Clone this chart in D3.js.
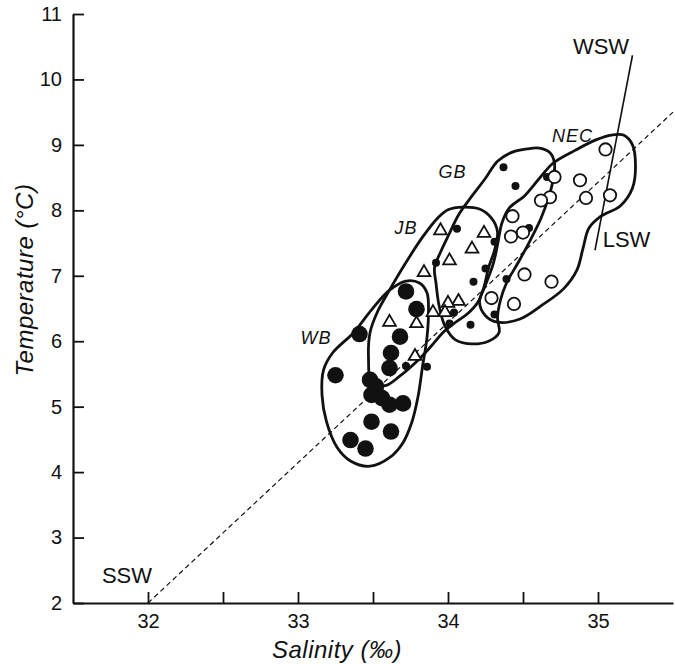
<!DOCTYPE html>
<html>
<head>
<meta charset="utf-8">
<script src="https://cdn.jsdelivr.net/npm/d3@7"></script>
<style>
  html, body { margin: 0; padding: 0; background: #fff; }
  svg { display: block; }
  text { font-family: "Liberation Sans", Arial, sans-serif; fill: #111; }
</style>
</head>
<body>
<svg id="chart" width="675" height="664"></svg>
<script>
// ---------------- data (salinity ‰, temperature °C) ----------------
const salinityTicks = [32, 32.5, 33, 33.5, 34, 34.5, 35];
const salinityLabels = [32, 33, 34, 35];
const tempTicks = [2, 3, 4, 5, 6, 7, 8, 9, 10, 11];

// WB: large filled circles
const wbPoints = [
  [33.72, 6.76], [33.79, 6.49], [33.41, 6.11], [33.68, 6.07], [33.62, 5.82],
  [33.25, 5.48], [33.48, 5.41], [33.52, 5.31], [33.49, 5.18], [33.56, 5.13],
  [33.61, 5.03], [33.70, 5.05], [33.49, 4.77], [33.62, 4.62], [33.35, 4.49],
  [33.45, 4.36], [33.61, 5.59]
];
// JB: open triangles
const jbPoints = [
  [33.61, 6.29], [33.79, 6.27], [33.90, 6.44], [33.78, 5.77], [33.95, 7.69],
  [34.24, 7.65], [34.16, 7.41], [34.01, 7.23], [33.84, 7.05], [34.07, 6.61],
  [34.00, 6.58], [33.98, 6.44]
];
// GB: small filled circles
const gbPoints = [
  [34.37, 8.66], [34.45, 8.37], [34.66, 8.51], [34.54, 7.73], [34.31, 7.52],
  [34.06, 7.72], [33.92, 7.20], [34.25, 7.11], [34.17, 6.91], [34.39, 6.95],
  [34.04, 6.44], [34.01, 6.27], [34.15, 6.25], [34.31, 6.41], [33.86, 5.61],
  [33.72, 5.62]
];
// NEC: open circles
const necPoints = [
  [35.05, 8.93], [34.71, 8.51], [34.88, 8.46], [34.68, 8.20], [34.62, 8.15],
  [34.92, 8.19], [35.08, 8.23], [34.43, 7.91], [34.50, 7.66], [34.42, 7.60],
  [34.51, 7.02], [34.69, 6.91], [34.44, 6.57], [34.29, 6.66]
];

// enclosing contours
const wbContour = [
  [33.61, 6.78], [33.72, 6.92], [33.81, 6.89], [33.86, 6.74], [33.87, 6.48],
  [33.86, 6.06], [33.83, 5.61], [33.80, 5.15], [33.76, 4.77], [33.70, 4.45],
  [33.61, 4.22], [33.48, 4.09], [33.35, 4.17], [33.26, 4.38], [33.19, 4.77],
  [33.16, 5.18], [33.17, 5.56], [33.23, 5.82], [33.37, 6.13], [33.49, 6.48]
];
const jbContour = [
  [33.49, 5.38], [33.47, 5.74], [33.48, 6.13], [33.53, 6.45], [33.61, 6.78],
  [33.70, 7.13], [33.83, 7.59], [33.93, 7.88], [34.00, 8.01], [34.10, 8.05],
  [34.21, 8.02], [34.29, 7.88], [34.33, 7.67], [34.31, 7.39], [34.27, 7.12],
  [34.24, 6.83], [34.20, 6.60], [34.13, 6.42], [34.05, 6.29], [33.97, 6.14],
  [33.89, 5.93], [33.80, 5.71], [33.68, 5.47], [33.58, 5.32]
];
const gbContour = [
  [34.43, 8.89], [34.53, 8.94], [34.61, 8.95], [34.68, 8.88], [34.71, 8.72],
  [34.70, 8.46], [34.67, 8.19], [34.62, 7.88], [34.55, 7.55], [34.47, 7.21],
  [34.39, 6.89], [34.35, 6.63], [34.33, 6.36], [34.34, 6.13], [34.27, 6.00],
  [34.15, 5.96], [34.05, 6.02], [33.98, 6.23], [33.94, 6.55], [33.92, 6.89],
  [33.91, 7.12], [33.95, 7.36], [34.01, 7.65], [34.07, 7.93], [34.15, 8.19],
  [34.25, 8.49], [34.33, 8.75]
];
const necContour = [
  [34.70, 8.72], [34.85, 8.92], [34.99, 9.08], [35.09, 9.15], [35.17, 9.15],
  [35.23, 9.00], [35.25, 8.69], [35.23, 8.34], [35.15, 8.07], [35.02, 7.91],
  [34.94, 7.73], [34.90, 7.42], [34.86, 7.09], [34.77, 6.80], [34.62, 6.54],
  [34.48, 6.34], [34.33, 6.29], [34.25, 6.39], [34.21, 6.60], [34.25, 6.86],
  [34.30, 7.17], [34.33, 7.47], [34.36, 7.81], [34.41, 8.04], [34.51, 8.22],
  [34.61, 8.49]
];

// mixing line from SSW, and WSW/LSW separator
const mixingLine = [[32.0, 2.0], [35.5, 9.5]];
const wswLine = [[35.23, 10.37], [34.98, 7.39]];

// annotations: [text, salinity, temperature]
const waterMassLabels = [
  ["WB", 33.12, 6.05], ["JB", 33.72, 7.73], ["GB", 34.03, 8.59], ["NEC", 34.83, 9.14]
];
const endMemberLabels = [
  ["SSW", 31.86, 2.42], ["WSW", 35.02, 10.50], ["LSW", 35.19, 7.56]
];

// ---------------- drawing ----------------
const svg = d3.select("#chart");
const x = d3.scaleLinear().domain([31.5, 35.5]).range([73, 673]);
const y = d3.scaleLinear().domain([2, 11]).range([603, 14]);

// contours
const closed = d3.line().x(d => x(d[0])).y(d => y(d[1])).curve(d3.curveCatmullRomClosed.alpha(0.5));
[wbContour, jbContour, gbContour, necContour].forEach(c => {
  svg.append("path").attr("d", closed(c))
    .attr("fill", "none").attr("stroke", "#111").attr("stroke-width", 2.8)
    .attr("stroke-linejoin", "round");
});

// dashed mixing line
const straight = d3.line().x(d => x(d[0])).y(d => y(d[1]));
svg.append("path").attr("d", straight(mixingLine))
  .attr("fill", "none").attr("stroke", "#111").attr("stroke-width", 1.2)
  .attr("stroke-dasharray", "5,3.5");
svg.append("path").attr("d", straight(wswLine))
  .attr("fill", "none").attr("stroke", "#111").attr("stroke-width", 1.6);

// axes
const xAxis = d3.axisBottom(x).tickValues(salinityTicks)
  .tickFormat(d => salinityLabels.includes(d) ? d : "")
  .tickSize(-11).tickSizeOuter(0).tickPadding(11);
const gx = svg.append("g").attr("transform", `translate(0,${y(2)})`).call(xAxis);
const yAxis = d3.axisLeft(y).tickValues(tempTicks)
  .tickSize(-11).tickSizeOuter(0).tickPadding(11);
const gy = svg.append("g").attr("transform", `translate(${x(31.5)},0)`).call(yAxis);
[gx, gy].forEach(g => {
  g.select(".domain").attr("stroke", "#111").attr("stroke-width", 2.2);
  g.selectAll(".tick line").attr("stroke", "#111").attr("stroke-width", 1.8);
  g.selectAll(".tick text").style("font-size", "20px").style("font-family", "'Liberation Sans', Arial, sans-serif").attr("fill", "#111");
});

// markers
svg.append("g").selectAll("circle").data(wbPoints).join("circle")
  .attr("cx", d => x(d[0])).attr("cy", d => y(d[1])).attr("r", 8.3).attr("fill", "#111");
svg.append("g").selectAll("circle").data(gbPoints).join("circle")
  .attr("cx", d => x(d[0])).attr("cy", d => y(d[1])).attr("r", 4).attr("fill", "#111");
svg.append("g").selectAll("circle").data(necPoints).join("circle")
  .attr("cx", d => x(d[0])).attr("cy", d => y(d[1])).attr("r", 6.2)
  .attr("fill", "#fff").attr("stroke", "#111").attr("stroke-width", 1.8);
const tri = d3.symbol().type(d3.symbolTriangle).size(70);
svg.append("g").selectAll("path").data(jbPoints).join("path")
  .attr("d", tri).attr("transform", d => `translate(${x(d[0])},${y(d[1])})`)
  .attr("fill", "#fff").attr("stroke", "#111").attr("stroke-width", 1.8)
  .attr("stroke-linejoin", "miter");

// labels
svg.append("g").selectAll("text").data(waterMassLabels).join("text")
  .attr("x", d => x(d[1])).attr("y", d => y(d[2]))
  .attr("text-anchor", "middle").attr("dominant-baseline", "central")
  .style("font-size", "18px").style("font-style", "italic").style("letter-spacing", "1px")
  .text(d => d[0]);
svg.append("g").selectAll("text").data(endMemberLabels).join("text")
  .attr("x", d => x(d[1])).attr("y", d => y(d[2]))
  .attr("text-anchor", "middle").attr("dominant-baseline", "central")
  .style("font-size", "22px")
  .text(d => d[0]);

// axis titles
svg.append("text").attr("transform", "translate(24,280) rotate(-90)")
  .attr("text-anchor", "middle").attr("dominant-baseline", "central")
  .style("font-size", "24px").style("font-style", "italic").style("letter-spacing", "0.5px")
  .text("Temperature (°C)");
svg.append("text").attr("x", 337).attr("y", 649)
  .attr("text-anchor", "middle").attr("dominant-baseline", "central")
  .style("font-size", "24px").style("font-style", "italic").style("letter-spacing", "0.5px")
  .text("Salinity (‰)");
</script>
</body>
</html>
